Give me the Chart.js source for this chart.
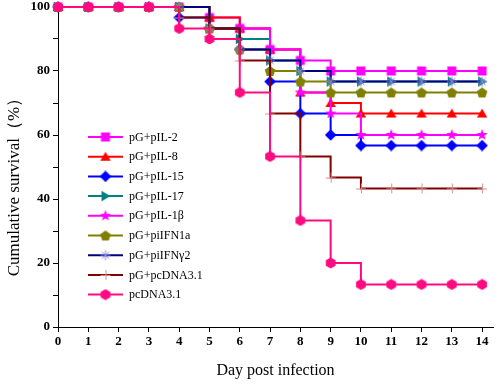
<!DOCTYPE html>
<html>
<head>
<meta charset="utf-8">
<script src="https://cdn.jsdelivr.net/npm/chart.js@4.4.0/dist/chart.umd.min.js"></script>
<style>
  html, body { margin: 0; padding: 0; background: #fff; overflow: hidden; }
  #wrap { width: 500px; height: 384px; }
</style>
</head>
<body>
<div id="wrap"><canvas id="survival"></canvas></div>
<script>
// days post infection
var days = [0, 1, 2, 3, 4, 5, 6, 7, 8, 9, 10, 11, 12, 13, 14];

// cumulative survival (%) per group
var pIL2    = [100, 100, 100, 100, 100, 96.7, 93.3, 86.7, 83.3, 80, 80, 80, 80, 80, 80];
var pIL8    = [100, 100, 100, 100, 100, 96.7, 93.3, 86.7, 73.3, 70, 66.7, 66.7, 66.7, 66.7, 66.7];
var pIL15   = [100, 100, 100, 100, 96.7, 93.3, 86.7, 76.7, 66.7, 60, 56.7, 56.7, 56.7, 56.7, 56.7];
var pIL17   = [100, 100, 100, 100, 100, 93.3, 90, 83.3, 80, 76.7, 76.7, 76.7, 76.7, 76.7, 76.7];
var pIL1b   = [100, 100, 100, 100, 100, 93.3, 93.3, 86.7, 73.3, 66.7, 60, 60, 60, 60, 60];
var piIFN1a = [100, 100, 100, 100, 100, 93.3, 86.7, 80, 76.7, 73.3, 73.3, 73.3, 73.3, 73.3, 73.3];
var piIFNg2 = [100, 100, 100, 100, 100, 93.3, 86.7, 83.3, 80, 76.7, 76.7, 76.7, 76.7, 76.7, 76.7];
var pGpcDNA = [100, 100, 100, 100, 96.7, 93.3, 83.3, 66.7, 53.3, 46.7, 43.3, 43.3, 43.3, 43.3, 43.3];
var pcDNA   = [100, 100, 100, 100, 93.3, 90, 73.3, 53.3, 33.3, 20, 13.3, 13.3, 13.3, 13.3, 13.3];

var groupNames = ['pG+pIL-2', 'pG+pIL-8', 'pG+pIL-15', 'pG+pIL-17', 'pG+pIL-1\u03b2',
                  'pG+piIFN1a', 'pG+piIFN\u03b32', 'pG+pcDNA3.1', 'pcDNA3.1'];
var groupValues = [pIL2, pIL8, pIL15, pIL17, pIL1b, piIFN1a, piIFNg2, pGpcDNA, pcDNA];
var lineColors = ['#ff00ff', '#ff0000', '#0000ff', '#008080', '#ff00ff',
                  '#808000', '#000080', '#800000', '#ff0a80'];
var markerKinds = ['square', 'triangle', 'diamond', 'rtriangle', 'star',
                   'pentagon', 'asterisk', 'plus', 'hexagon'];
var markerColors = ['#ff00ff', '#ff0000', '#0000ff', '#008080', '#ff00ff',
                    '#808000', '#8a8ad6', '#d89090', '#ff0a80'];

var serif = '"Liberation Serif", "Times New Roman", serif';

function polygon(ctx, cx, cy, r, n, rot) {
  ctx.beginPath();
  for (var k = 0; k < n; k++) {
    var a = rot + k * 2 * Math.PI / n;
    ctx.lineTo(cx + r * Math.cos(a), cy + r * Math.sin(a));
  }
  ctx.closePath();
  ctx.fill();
}

function makeMarker(kind, color) {
  var c = document.createElement('canvas');
  c.width = 12; c.height = 12;
  var g = c.getContext('2d');
  g.fillStyle = color;
  g.strokeStyle = color;
  var cx = 6, cy = 6;
  if (kind === 'square') {
    g.fillRect(1.5, 1.5, 9, 9);
  } else if (kind === 'triangle') {
    polygon(g, cx, cy + 1, 6, 3, -Math.PI / 2);
  } else if (kind === 'diamond') {
    polygon(g, cx, cy, 5.8, 4, -Math.PI / 2);
  } else if (kind === 'rtriangle') {
    polygon(g, cx - 1, cy, 6, 3, 0);
  } else if (kind === 'star') {
    g.beginPath();
    for (var k = 0; k < 10; k++) {
      var a = -Math.PI / 2 + k * Math.PI / 5;
      var r = k % 2 ? 2.4 : 6;
      g.lineTo(cx + r * Math.cos(a), cy + r * Math.sin(a));
    }
    g.closePath();
    g.fill();
  } else if (kind === 'pentagon') {
    polygon(g, cx, cy + 0.5, 5.6, 5, -Math.PI / 2);
  } else if (kind === 'hexagon') {
    polygon(g, cx, cy, 5.6, 6, -Math.PI / 2);
  } else if (kind === 'asterisk') {
    g.lineWidth = 1;
    g.beginPath();
    for (var k = 0; k < 4; k++) {
      var a = k * Math.PI / 4;
      g.moveTo(cx - 5 * Math.cos(a), cy - 5 * Math.sin(a));
      g.lineTo(cx + 5 * Math.cos(a), cy + 5 * Math.sin(a));
    }
    g.stroke();
  } else if (kind === 'plus') {
    g.lineWidth = 1;
    g.beginPath();
    g.moveTo(cx - 5, cy + 0.5); g.lineTo(cx + 5, cy + 0.5);
    g.moveTo(cx + 0.5, cy - 5); g.lineTo(cx + 0.5, cy + 5);
    g.stroke();
  }
  return c;
}

var markers = markerKinds.map(function (k, i) { return makeMarker(k, markerColors[i]); });

var datasets = groupValues.map(function (vals, i) {
  return {
    label: groupNames[i],
    data: days.map(function (d, j) { return { x: d, y: vals[j] }; }),
    borderColor: lineColors[i],
    backgroundColor: lineColors[i],
    borderWidth: 2,
    stepped: 'before',
    pointStyle: markers[i],
    pointRadius: 5,
    clip: false,
    order: groupValues.length - i   // later groups drawn on top
  };
});

// legend inside the plot (line + marker + label) and the y title, which sits
// a bit below the axis centre in the original
var extras = {
  id: 'extras',
  afterDraw: function (chart) {
    var ctx = chart.ctx;
    ctx.save();
    ctx.font = '12px ' + serif;
    ctx.textBaseline = 'middle';
    ctx.fillStyle = '#000';
    for (var i = 0; i < groupNames.length; i++) {
      var y = 137 + i * 19.7;
      ctx.strokeStyle = lineColors[i];
      ctx.lineWidth = 2;
      ctx.beginPath();
      ctx.moveTo(88, y); ctx.lineTo(123, y);
      ctx.stroke();
      ctx.drawImage(markers[i], 105.5 - 6, y - 6);
      ctx.fillText(groupNames[i], 129, y + 0.5);
    }
    ctx.translate(15, 183);
    ctx.rotate(-Math.PI / 2);
    ctx.textAlign = 'center';
    ctx.font = '17px ' + serif;
    ctx.fillText('Cumulative survival\uff08%\uff09', 0, 0);
    ctx.restore();
  }
};

var tickFont = { family: serif, size: 13, weight: 'bold' };
var titleFont = { family: serif, size: 16 };

new Chart(document.getElementById('survival'), {
  type: 'line',
  data: { datasets: datasets },
  plugins: [extras],
  options: {
    responsive: true,
    maintainAspectRatio: false,
    animation: false,
    layout: { padding: { top: 7, right: 0, left: 0, bottom: 0 } },
    plugins: { legend: { display: false }, tooltip: { enabled: false } },
    scales: {
      x: {
        type: 'linear',
        min: 0,
        max: 14.36,
        afterBuildTicks: function (scale) {
          scale.ticks = days.map(function (d) { return { value: d }; });
        },
        afterFit: function (scale) {
          scale.height = 57;
          scale.paddingLeft = 0;
          scale.paddingRight = 0;
        },
        ticks: { color: '#000', font: tickFont, padding: 2, maxRotation: 0, autoSkip: false },
        grid: { drawOnChartArea: false, drawTicks: true, tickLength: 5, tickColor: '#000' },
        border: { display: true, color: '#000', width: 1 },
        title: { display: true, text: 'Day post infection', color: '#000', font: titleFont, padding: { top: 8 } }
      },
      y: {
        min: 0,
        max: 100,
        afterFit: function (scale) {
          scale.width = 58;
          scale.paddingTop = 0;
          scale.paddingBottom = 0;
        },
        ticks: {
          stepSize: 10,
          color: '#000',
          font: tickFont,
          padding: 3,
          callback: function (v) { return v % 20 === 0 ? v : ''; }
        },
        grid: { drawOnChartArea: false, drawTicks: true, tickLength: 5, tickColor: '#000' },
        border: { display: true, color: '#000', width: 1 },
        title: { display: false }
      }
    }
  }
});
</script>
</body>
</html>
